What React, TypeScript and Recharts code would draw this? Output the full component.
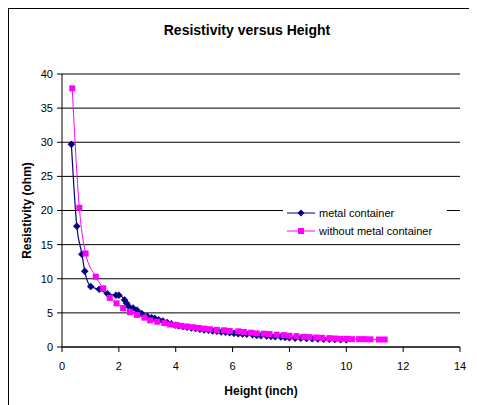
import React from 'react';
import { LineChart, Line, XAxis, YAxis, CartesianGrid, Label } from 'recharts';

// Height (inch) / resistivity (ohm)
const metalHeight = [0.33, 0.52, 0.7, 0.8, 1.01, 1.31, 1.6, 1.9, 2.0, 2.2, 2.27, 2.33, 2.5, 2.64, 2.8, 3.0, 3.15, 3.26, 3.4, 3.55, 3.7, 3.85, 4.0, 4.1, 4.25, 4.4, 4.55, 4.7, 4.85, 5.0, 5.15, 5.3, 5.45, 5.6, 5.75, 5.9, 6.05, 6.2, 6.35, 6.5, 6.7, 6.85, 7.0, 7.2, 7.35, 7.5, 7.7, 7.85, 8.0, 8.2, 8.4, 8.6, 8.8, 9.0, 9.2, 9.4, 9.6, 9.8, 10.0];
const metalResist = [29.7, 17.7, 13.6, 11.1, 8.85, 8.45, 7.8, 7.6, 7.6, 6.9, 6.4, 6.0, 5.7, 5.4, 4.9, 4.5, 4.3, 4.2, 4.0, 3.8, 3.6, 3.4, 3.2, 3.1, 3.0, 2.9, 2.8, 2.7, 2.6, 2.5, 2.45, 2.35, 2.3, 2.2, 2.15, 2.1, 2.0, 1.95, 1.9, 1.85, 1.8, 1.7, 1.65, 1.6, 1.55, 1.5, 1.45, 1.4, 1.35, 1.3, 1.28, 1.25, 1.2, 1.18, 1.15, 1.12, 1.1, 1.08, 1.05];

const plainHeight = [0.36, 0.61, 0.83, 1.19, 1.45, 1.68, 1.92, 2.15, 2.39, 2.64, 2.9, 3.1, 3.35, 3.6, 3.8, 4.0, 4.2, 4.4, 4.6, 4.8, 5.0, 5.2, 5.45, 5.7, 5.9, 6.2, 6.4, 6.65, 6.85, 7.1, 7.3, 7.55, 7.8, 8.0, 8.25, 8.5, 8.7, 8.95, 9.15, 9.4, 9.6, 9.8, 10.0, 10.2, 10.45, 10.65, 10.85, 11.15, 11.35];
const plainResist = [37.9, 20.4, 13.7, 10.3, 8.6, 7.2, 6.4, 5.7, 5.1, 4.7, 4.3, 3.9, 3.7, 3.5, 3.3, 3.2, 3.1, 3.0, 2.9, 2.8, 2.7, 2.6, 2.5, 2.45, 2.35, 2.3, 2.2, 2.1, 2.0, 1.95, 1.9, 1.8, 1.75, 1.65, 1.6, 1.5, 1.45, 1.4, 1.35, 1.3, 1.25, 1.2, 1.2, 1.15, 1.15, 1.15, 1.12, 1.1, 1.1];

const xTicks = [0, 2, 4, 6, 8, 10, 12, 14];
const yTicks = [0, 5, 10, 15, 20, 25, 30, 35, 40];

const NAVY = '#000080';
const PINK = '#ff00ff';
const FONT = "Arial, 'Liberation Sans', sans-serif";

const metalData = metalHeight.map((x, i) => ({ x, y: metalResist[i] }));
const plainData = plainHeight.map((x, i) => ({ x, y: plainResist[i] }));

const Diamond = (props: any) => {
  const { cx, cy } = props;
  if (cx == null || cy == null) return null;
  const r = 3.5;
  return <polygon points={`${cx},${cy - r} ${cx + r},${cy} ${cx},${cy + r} ${cx - r},${cy}`} fill={NAVY} stroke={NAVY} strokeWidth={0.5} />;
};

const Square = (props: any) => {
  const { cx, cy } = props;
  if (cx == null || cy == null) return null;
  return <rect x={cx - 3} y={cy - 3} width={6} height={6} fill={PINK} />;
};

const LegendBox = () => (
  <div style={{ position: 'absolute', left: 274, top: 192, background: '#fff', width: 164, padding: '3px 0', fontFamily: FONT, fontSize: 11 }}>
    {[
      { name: 'metal container', color: NAVY, square: false },
      { name: 'without metal container', color: PINK, square: true },
    ].map((it) => (
      <div key={it.name} style={{ display: 'flex', alignItems: 'center', height: 18 }}>
        <svg width={30} height={10} style={{ marginLeft: 4, marginRight: 2 }}>
          <line x1={0} y1={5} x2={28} y2={5} stroke={it.color} strokeWidth={1} />
          {it.square ? (
            <rect x={11} y={2} width={6} height={6} fill={it.color} />
          ) : (
            <polygon points="14,1.5 17.5,5 14,8.5 10.5,5" fill={it.color} />
          )}
        </svg>
        <span>{it.name}</span>
      </div>
    ))}
  </div>
);

export default function App() {
  return (
    <div
      style={{
        position: 'relative',
        width: 469,
        height: 397,
        boxSizing: 'border-box',
        borderLeft: '1px solid #000',
        borderTop: '1px solid #000',
        background: '#fff',
        fontFamily: FONT,
      }}
    >
      <div style={{ position: 'absolute', left: 0, top: 13, width: 476, textAlign: 'center', fontWeight: 'bold', fontSize: 14 }}>
        Resistivity versus Height
      </div>
      <LineChart width={468} height={396} margin={{ top: 65, right: 17, bottom: 28, left: 0 }}>
        <CartesianGrid vertical={false} stroke="#000" strokeWidth={1} />
        <XAxis
          type="number"
          dataKey="x"
          domain={[0, 14]}
          ticks={xTicks}
          height={30}
          tickSize={5}
          tickMargin={10}
          stroke="#000"
          tick={{ fill: '#000', fontSize: 11, fontFamily: FONT }}
        >
          <Label value="Height (inch)" position="bottom" offset={9} style={{ fontWeight: 'bold', fontSize: 12, fill: '#000', fontFamily: FONT }} />
        </XAxis>
        <YAxis
          type="number"
          domain={[0, 40]}
          ticks={yTicks}
          width={53}
          tickSize={5}
          tickMargin={4}
          stroke="#000"
          tick={{ fill: '#000', fontSize: 11, fontFamily: FONT }}
        >
          <Label
            value="Resistivity (ohm)"
            angle={-90}
            position="insideLeft"
            offset={18}
            style={{ textAnchor: 'middle', fontWeight: 'bold', fontSize: 12, fill: '#000', fontFamily: FONT }}
          />
        </YAxis>
        <Line
          data={metalData}
          dataKey="y"
          name="metal container"
          type="monotone"
          stroke={NAVY}
          strokeWidth={1.2}
          dot={<Diamond />}
          activeDot={false}
          isAnimationActive={false}
        />
        <Line
          data={plainData}
          dataKey="y"
          name="without metal container"
          type="monotone"
          stroke={PINK}
          strokeWidth={1}
          dot={<Square />}
          activeDot={false}
          isAnimationActive={false}
        />
      </LineChart>
      <LegendBox />
    </div>
  );
}
